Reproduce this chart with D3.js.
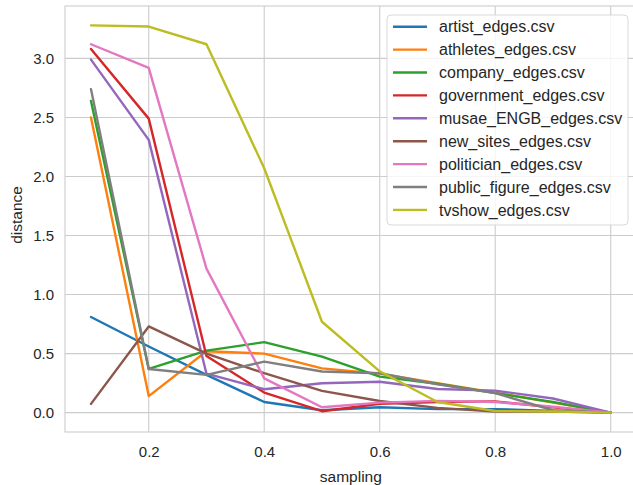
<!DOCTYPE html>
<html>
<head>
<meta charset="utf-8">
<style>
    body { margin: 0; background: white; }
    svg { font-family: Arial, 'Liberation Sans', sans-serif; }
    .grid line { stroke: #cccccc; stroke-width: 1.1; }
    .tick text { fill: #262626; font-size: 15px; }
</style>
</head>
<body>
<svg width="633" height="485"></svg>
<script src="https://d3js.org/d3.v7.min.js"></script>
<script>
    // sampling values on the x axis
    let sampling = [0.1, 0.2, 0.3, 0.4, 0.5, 0.6, 0.7, 0.8, 0.9, 1.0];

    let artist      = [0.81, 0.56, 0.32, 0.09, 0.02, 0.045, 0.03, 0.03, 0.015, 0];
    let athletes    = [2.50, 0.14, 0.52, 0.50, 0.375, 0.33, 0.25, 0.17, 0.085, 0];
    let company     = [2.64, 0.37, 0.525, 0.597, 0.475, 0.305, 0.245, 0.165, 0.09, 0];
    let government  = [3.08, 2.49, 0.48, 0.17, 0.012, 0.075, 0.09, 0.095, 0.045, 0];
    let musae       = [2.99, 2.31, 0.33, 0.198, 0.249, 0.262, 0.2, 0.186, 0.12, 0];
    let newSites    = [0.074, 0.73, 0.50, 0.334, 0.184, 0.099, 0.04, 0.01, 0.01, 0];
    let politician  = [3.12, 2.92, 1.22, 0.29, 0.046, 0.085, 0.1, 0.09, 0.05, 0];
    let publicFig   = [2.74, 0.37, 0.32, 0.432, 0.348, 0.334, 0.24, 0.165, 0.02, 0];
    let tvshow      = [3.28, 3.27, 3.12, 2.07, 0.77, 0.35, 0.09, 0.014, 0.01, 0];

    let names = ["artist_edges.csv", "athletes_edges.csv", "company_edges.csv", "government_edges.csv",
        "musae_ENGB_edges.csv", "new_sites_edges.csv", "politician_edges.csv", "public_figure_edges.csv",
        "tvshow_edges.csv"];
    let values = [artist, athletes, company, government, musae, newSites, politician, publicFig, tvshow];
    let colors = ["#1f77b4", "#ff7f0e", "#2ca02c", "#d62728", "#9467bd", "#8c564b", "#e377c2", "#7f7f7f", "#bcbd22"];

    let xTicks = [0.2, 0.4, 0.6, 0.8, 1.0];
    let yTicks = [0, 0.5, 1, 1.5, 2, 2.5, 3];

    let svg = d3.select("svg");
    let mLeft = 65, mRight = 636.7, mTop = 6, mBottom = 432;

    let x = d3.scaleLinear().domain([0.055, 1.045]).range([mLeft, mRight]);
    let y = d3.scaleLinear().domain([-0.164, 3.444]).range([mBottom, mTop]);

    // grid
    let grid = svg.append("g").attr("class", "grid");
    grid.selectAll(".gx").data(xTicks).join("line")
        .attr("class", "gx")
        .attr("x1", d => x(d)).attr("x2", d => x(d))
        .attr("y1", mTop).attr("y2", mBottom);
    grid.selectAll(".gy").data(yTicks).join("line")
        .attr("class", "gy")
        .attr("x1", mLeft).attr("x2", mRight)
        .attr("y1", d => y(d)).attr("y2", d => y(d));

    // frame
    svg.append("rect")
        .attr("x", mLeft).attr("y", mTop)
        .attr("width", mRight - mLeft).attr("height", mBottom - mTop)
        .attr("fill", "none").attr("stroke", "#cccccc").attr("stroke-width", 1.1);

    // axes (text only)
    let xAxis = svg.append("g").attr("transform", `translate(0,${mBottom})`)
        .call(d3.axisBottom(x).tickValues(xTicks).tickFormat(d3.format(".1f")).tickSize(0).tickPadding(14));
    xAxis.select(".domain").remove();

    let yAxis = svg.append("g").attr("transform", `translate(${mLeft},0)`)
        .call(d3.axisLeft(y).tickValues(yTicks).tickFormat(d3.format(".1f")).tickSize(0).tickPadding(11));
    yAxis.select(".domain").remove();

    svg.append("text")
        .attr("x", x(0.55)).attr("y", 482)
        .attr("text-anchor", "middle")
        .attr("font-size", 15.5).attr("fill", "#262626")
        .text("sampling");

    svg.append("text")
        .attr("transform", "translate(22,215) rotate(-90)")
        .attr("text-anchor", "middle")
        .attr("font-size", 15.5).attr("fill", "#262626")
        .text("distance");

    // lines
    let line = d3.line()
        .x((d, i) => x(sampling[i]))
        .y(d => y(d));

    svg.append("g").selectAll("path")
        .data(values)
        .join("path")
        .attr("d", line)
        .attr("fill", "none")
        .attr("stroke", (d, i) => colors[i])
        .attr("stroke-width", 2.4)
        .attr("stroke-linejoin", "round")
        .attr("stroke-linecap", "round");

    // legend
    let legend = svg.append("g");
    legend.append("rect")
        .attr("x", 387).attr("y", 15)
        .attr("width", 241).attr("height", 210)
        .attr("rx", 4)
        .attr("fill", "white").attr("fill-opacity", 0.8)
        .attr("stroke", "#d9d9d9");

    let rows = legend.selectAll(".row").data(names).join("g")
        .attr("class", "row")
        .attr("transform", (d, i) => `translate(0,${26.7 + i * 22.9})`);
    rows.append("line")
        .attr("x1", 393).attr("x2", 427)
        .attr("stroke", (d, i) => colors[i])
        .attr("stroke-width", 2.4);
    rows.append("text")
        .attr("x", 439).attr("dy", "0.35em")
        .attr("font-size", 16).attr("fill", "#262626")
        .text(d => d);
</script>
</body>
</html>
